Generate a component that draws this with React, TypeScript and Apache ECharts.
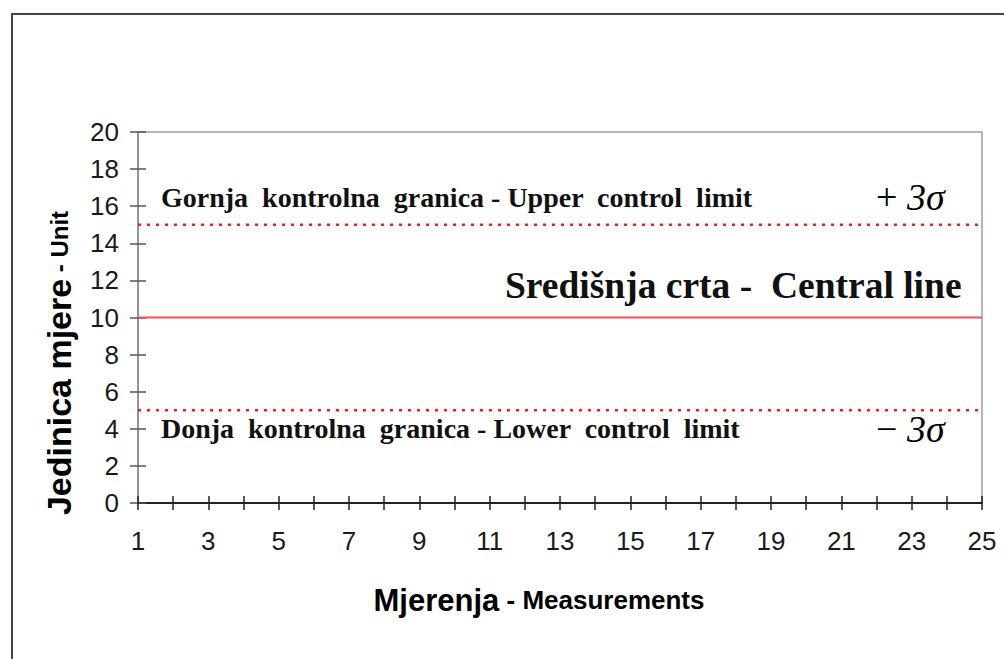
import React, { useEffect, useRef } from "react";
import * as echarts from "echarts";

// ---- data ----
const measurementRange = [1, 25];
const yRange = [0, 20];
const yStep = 2;
const xStep = 1;
const limitNames = ["Upper control limit", "Central line", "Lower control limit"];
const limitValues = [15, 10, 5];
const limitDashed = [true, false, true];

const serifFont = "'Liberation Serif', 'Times New Roman', serif";
const sansFont = "'Liberation Sans', Arial, sans-serif";

export default function App() {
  const ref = useRef<HTMLDivElement>(null);
  useEffect(() => {
    if (!ref.current) return;
    const chart = echarts.init(ref.current, undefined, { renderer: "svg" });
    const [xMin, xMax] = measurementRange;
    const commonX = {
      type: "value" as const,
      min: xMin,
      max: xMax,
      interval: xStep,
      splitLine: { show: false },
    };
    const commonY = {
      type: "value" as const,
      min: yRange[0],
      max: yRange[1],
      interval: yStep,
      splitLine: { show: false },
    };
    chart.setOption({
      animation: false,
      backgroundColor: "#ffffff",
      grid: {
        left: 138,
        right: 22,
        top: 132,
        bottom: 156,
        show: true,
        borderColor: "#a0a0a0",
        borderWidth: 1.5,
        backgroundColor: "transparent",
      },
      xAxis: [
        {
          ...commonX,
          position: "bottom",
          axisLine: { show: true, lineStyle: { color: "#222", width: 2 } },
          axisTick: { show: true, inside: false, length: 7, lineStyle: { color: "#222", width: 1.5 } },
          axisLabel: {
            show: true,
            margin: 25,
            fontFamily: sansFont,
            fontSize: 26,
            color: "#1a1a1a",
            showMinLabel: true,
            showMaxLabel: true,
            formatter: (v: number) => (v % 2 === 1 ? String(v) : ""),
          },
        },
        {
          ...commonX,
          position: "bottom",
          axisLine: { show: false },
          axisTick: { show: true, inside: true, length: 7, lineStyle: { color: "#222", width: 1.5 } },
          axisLabel: { show: false },
        },
      ],
      yAxis: [
        {
          ...commonY,
          position: "left",
          axisLine: { show: true, lineStyle: { color: "#888", width: 1.5 } },
          axisTick: { show: true, inside: false, length: 8, lineStyle: { color: "#555", width: 1.5 } },
          axisLabel: {
            show: true,
            margin: 19,
            fontFamily: sansFont,
            fontSize: 26,
            color: "#1a1a1a",
          },
        },
        {
          ...commonY,
          position: "left",
          axisLine: { show: false },
          axisTick: { show: true, inside: true, length: 8, lineStyle: { color: "#555", width: 1.5 } },
          axisLabel: { show: false },
        },
      ],
      series: limitNames.map((name, i) => ({
        name,
        type: "line",
        xAxisIndex: 0,
        yAxisIndex: 0,
        symbol: "none",
        silent: true,
        data: [
          [xMin, limitValues[i]],
          [xMax, limitValues[i]],
        ],
        lineStyle: limitDashed[i]
          ? { color: "#ff1a1a", width: 2.5, type: [3, 6] }
          : { color: "#ff4d4d", width: 2, type: "solid" },
      })),
      graphic: [
        {
          type: "rect",
          shape: { x: 12, y: 14, width: 1200, height: 900 },
          style: { fill: "none", stroke: "#444", lineWidth: 2 },
          silent: true,
        },
        {
          type: "text",
          x: 161,
          y: 197,
          style: {
            text: "Gornja  kontrolna  granica - Upper  control  limit",
            font: `bold 28px ${serifFont}`,
            fill: "#111",
            verticalAlign: "middle",
          },
        },
        {
          type: "text",
          x: 161,
          y: 428,
          style: {
            text: "Donja  kontrolna  granica - Lower  control  limit",
            font: `bold 28px ${serifFont}`,
            fill: "#111",
            verticalAlign: "middle",
          },
        },
        {
          type: "text",
          x: 505,
          y: 285,
          style: {
            text: "Središnja crta -  Central line",
            font: `bold 37.5px ${serifFont}`,
            fill: "#111",
            verticalAlign: "middle",
          },
        },
        {
          type: "text",
          x: 876,
          y: 197,
          style: {
            text: "{a|+ }{b|3σ}",
            verticalAlign: "middle",
            rich: {
              a: { fontFamily: serifFont, fontSize: 38, color: "#111" },
              b: { fontFamily: serifFont, fontSize: 38, fontStyle: "italic", color: "#111" },
            },
          },
        },
        {
          type: "text",
          x: 876,
          y: 429,
          style: {
            text: "{a|− }{b|3σ}",
            verticalAlign: "middle",
            rich: {
              a: { fontFamily: serifFont, fontSize: 38, color: "#111" },
              b: { fontFamily: serifFont, fontSize: 38, fontStyle: "italic", color: "#111" },
            },
          },
        },
        {
          type: "text",
          x: 59,
          y: 363,
          rotation: Math.PI / 2,
          style: {
            text: "{a|Jedinica mjere}{b| - Unit}",
            align: "center",
            verticalAlign: "middle",
            rich: {
              a: { fontFamily: sansFont, fontSize: 34, fontWeight: "bold", color: "#111" },
              b: { fontFamily: sansFont, fontSize: 24, fontWeight: "bold", color: "#111" },
            },
          },
        },
        {
          type: "text",
          x: 539,
          y: 600,
          style: {
            text: "{a|Mjerenja}{b| - Measurements}",
            align: "center",
            verticalAlign: "middle",
            rich: {
              a: { fontFamily: sansFont, fontSize: 31, fontWeight: "bold", color: "#111" },
              b: { fontFamily: sansFont, fontSize: 26, fontWeight: "bold", color: "#111" },
            },
          },
        },
      ],
    });
    return () => chart.dispose();
  }, []);
  return (
    <div
      ref={ref}
      style={{ position: "absolute", left: 0, top: 0, width: 1004, height: 659 }}
    />
  );
}
